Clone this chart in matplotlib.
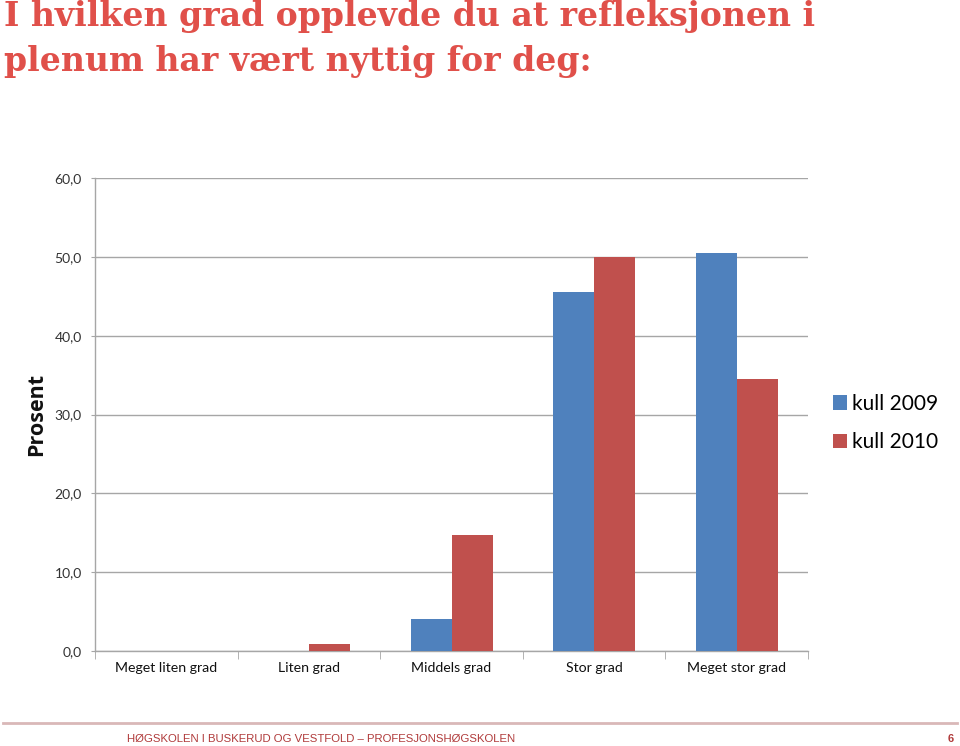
import matplotlib
matplotlib.use("Agg")
import matplotlib.pyplot as plt
from matplotlib.lines import Line2D
from matplotlib.patches import Patch
import numpy as np

categories = ["Meget liten grad", "Liten grad", "Middels grad", "Stor grad", "Meget stor grad"]
kull_2009 = [0.0, 0.0, 4.1, 45.6, 50.5]
kull_2010 = [0.0, 0.9, 14.7, 50.0, 34.5]
series_names = ["kull 2009", "kull 2010"]
yticks = [0, 10, 20, 30, 40, 50, 60]
ytick_labels = ["0,0", "10,0", "20,0", "30,0", "40,0", "50,0", "60,0"]

blue = "#4F81BD"
red = "#C0504D"
grid_c = "#A6A6A6"

fig = plt.figure(figsize=(9.6, 7.46), dpi=100)
ax = fig.add_axes([0.099, 0.1273, 0.7427, 0.6341])

x = np.arange(len(categories))
w = 0.2875
ax.bar(x - w/2, kull_2009, width=w, color=blue, zorder=3)
ax.bar(x + w/2, kull_2010, width=w, color=red, zorder=3)

ax.set_xlim(-0.5, len(categories) - 0.5)
ax.set_ylim(0, 60)
ax.set_yticks(yticks)
ax.set_yticklabels(ytick_labels, fontfamily="Lato", fontsize=10, color="#333333")
ax.yaxis.grid(True, color=grid_c, linewidth=1, zorder=0)
ax.set_xticks(x)
ax.set_xticklabels(categories, fontfamily="Lato", fontsize=10.2, color="#111111")
ax.tick_params(axis="x", length=0, pad=8)
ax.tick_params(axis="y", length=3, color=grid_c, pad=6.5)
ax.set_xticks(np.arange(-0.5, len(categories) + 0.5, 1.0), minor=True)
ax.tick_params(axis="x", which="minor", length=6, color=grid_c)
for s in ["top", "right"]:
    ax.spines[s].set_visible(False)
for s in ["left", "bottom"]:
    ax.spines[s].set_color(grid_c)
    ax.spines[s].set_linewidth(1)

fig.text(0.038, 0.444, "Prosent", rotation=90, ha="center", va="center",
         fontfamily="Open Sans", fontweight="bold", fontsize=15.5, color="#111111")

handles = [Patch(facecolor=blue, edgecolor="none"), Patch(facecolor=red, edgecolor="none")]
leg = fig.legend(handles, series_names, loc="center left", bbox_to_anchor=(0.848, 0.433),
                 frameon=False, prop={"family": "Lato", "size": 15},
                 handlelength=0.7, handleheight=0.7, handletextpad=0.2, labelspacing=0.9)

title_c = "#E0504A"
fig.text(0.004, 0.978, "I hvilken grad opplevde du at refleksjonen i", ha="left", va="center",
         fontfamily="DejaVu Serif", fontweight="bold", fontsize=23.9, color=title_c)
fig.text(0.004, 0.918, "plenum har vært nyttig for deg:", ha="left", va="center",
         fontfamily="DejaVu Serif", fontweight="bold", fontsize=23.9, color=title_c)

fig.add_artist(Line2D([0.003, 0.997], [0.031, 0.031], transform=fig.transFigure,
                      color="#D9B8B8", linewidth=2))
fig.text(0.132, 0.009, "HØGSKOLEN I BUSKERUD OG VESTFOLD – PROFESJONSHØGSKOLEN", ha="left", va="center",
         fontfamily="Liberation Sans", fontsize=8.2, color="#B03A3A")
fig.text(0.99, 0.009, "6", ha="center", va="center",
         fontfamily="Liberation Sans", fontweight="bold", fontsize=8, color="#B03A3A")

fig.savefig("out.png", dpi=100, facecolor="white")
